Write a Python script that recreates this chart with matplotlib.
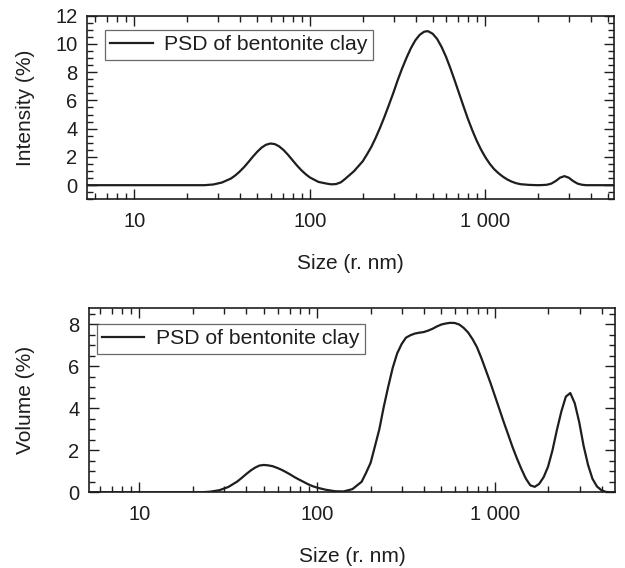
import matplotlib
matplotlib.use('Agg')
import matplotlib.pyplot as plt
from matplotlib.ticker import FixedLocator, LogLocator, MultipleLocator, FuncFormatter, NullFormatter

plt.rcParams['font.family'] = ['Liberation Sans', 'DejaVu Sans']

# intensity distribution (top)
size_int = [5, 25.1, 28.2, 31.6, 35.5, 37.6, 39.8, 42.2, 44.7, 47.3, 50.1, 53.1, 56.2, 59.6,
            63.1, 66.8, 70.8, 75.0, 79.4, 84.1, 89.1, 94.4, 100, 112, 126, 133, 141, 150, 158,
            178, 200, 211, 224, 237, 251, 266, 282, 299, 316, 335, 355, 376, 398, 422, 447,
            464, 473, 501, 531, 562, 596, 631, 668, 708, 750, 794, 841, 891, 944, 1000, 1059,
            1122, 1189, 1259, 1334, 1413, 1496, 1585, 1778, 1995, 2113, 2239, 2371, 2512,
            2661, 2818, 2985, 3162, 3350, 3548, 3758, 5600]
intensity = [0, 0, 0.05, 0.19, 0.47, 0.69, 0.96, 1.28, 1.64, 2.01, 2.36, 2.66, 2.86, 2.95,
             2.91, 2.75, 2.49, 2.16, 1.79, 1.42, 1.08, 0.79, 0.55, 0.23, 0.10, 0.06, 0.08, 0.20, 0.42,
             0.98, 1.69, 2.16, 2.71, 3.35, 4.06, 4.84, 5.68, 6.54, 7.41, 8.25, 9.01, 9.69, 10.24, 10.64, 10.86,
             10.90, 10.89, 10.72, 10.35, 9.80, 9.10, 8.29, 7.42, 6.50, 5.59, 4.71, 3.90, 3.16, 2.52, 1.97, 1.51,
             1.13, 0.84, 0.60, 0.40, 0.25, 0.14, 0.07, 0.02, 0, 0.01, 0.03, 0.11, 0.29,
             0.53, 0.64, 0.53, 0.29, 0.11, 0.03, 0, 0]

# volume distribution (bottom)
size_vol = [5, 22.4, 25.1, 28.2, 31.6, 35.5, 37.6, 39.8, 42.2, 44.7, 47.3, 50.1, 53.1, 56.2,
            59.6, 63.1, 66.8, 70.8, 75.0, 79.4, 84.1, 89.1, 94.4, 100, 112, 126, 141, 158, 178,
            188, 200, 211, 224, 237, 251, 266, 282, 299, 316, 335, 355, 376, 398, 422, 447, 473,
            501, 531, 562, 596, 631, 668, 708, 750, 794, 841, 891, 944, 1000, 1059, 1122, 1189,
            1259, 1334, 1413, 1496, 1585, 1679, 1778, 1884, 1995, 2113, 2239, 2371, 2512, 2661,
            2818, 2985, 3162, 3350, 3548, 3758, 3981, 4217, 4467, 5600]
volume = [0, 0, 0.03, 0.10, 0.25, 0.51, 0.68, 0.86, 1.03, 1.17, 1.27, 1.30, 1.28, 1.24,
          1.16, 1.07, 0.96, 0.84, 0.71, 0.60, 0.49, 0.38, 0.29, 0.22, 0.12, 0.05, 0.04, 0.15, 0.5,
          0.9, 1.4, 2.15, 3.0, 4.05, 5.0, 5.9, 6.6, 7.05, 7.35, 7.47, 7.55, 7.59, 7.62, 7.69, 7.78, 7.89,
          7.98, 8.03, 8.06, 8.05, 7.98, 7.82, 7.6, 7.28, 6.9, 6.38, 5.8, 5.22, 4.6, 3.98, 3.35, 2.75,
          2.15, 1.6, 1.1, 0.65, 0.33, 0.26, 0.4, 0.72, 1.22, 2.0, 2.98, 3.85, 4.55, 4.72,
          4.24, 3.35, 2.21, 1.3, 0.64, 0.28, 0.10, 0.02, 0, 0]

x_ticks = [10, 100, 1000]
x_labels = ['10', '100', '1 000']
legend_label = 'PSD of bentonite clay'

ink = '#1e1e1e'
fs = 14.5

fig = plt.figure(figsize=(6.25, 5.68), dpi=100)
ax1 = fig.add_axes([0.1397, 0.6491, 0.8427, 0.3233])
ax2 = fig.add_axes([0.1424, 0.1333, 0.8416, 0.3239])


def fmt(v, pos):
    k = int(round(v))
    return x_labels[x_ticks.index(k)] if k in x_ticks else ''


def style(ax, xlim, ylim, ylabel, anchor, ylab_x):
    ax.set_xscale('log')
    ax.set_xlim(*xlim)
    ax.set_ylim(*ylim)
    ax.xaxis.set_major_locator(FixedLocator(x_ticks))
    ax.xaxis.set_major_formatter(FuncFormatter(fmt))
    ax.xaxis.set_minor_locator(LogLocator(base=10, subs=range(2, 10)))
    ax.xaxis.set_minor_formatter(NullFormatter())
    ax.yaxis.set_major_locator(MultipleLocator(2))
    ax.yaxis.set_minor_locator(MultipleLocator(0.5))
    ax.tick_params(which='both', direction='in', top=True, right=True, color=ink,
                   labelcolor=ink, labelsize=fs, width=1.0)
    ax.tick_params(which='major', length=7)
    ax.tick_params(which='minor', length=4)
    ax.tick_params(axis='x', which='major', pad=9)
    ax.tick_params(axis='y', which='major', pad=7)
    for s in ax.spines.values():
        s.set_color(ink)
        s.set_linewidth(1.2)
    ax.set_xlabel('Size (r. nm)', fontsize=15, color=ink, labelpad=16.5)
    ax.set_ylabel(ylabel, fontsize=15, color=ink)
    ax.yaxis.set_label_coords(ylab_x, 0.5)
    leg = ax.legend(loc='upper left', bbox_to_anchor=anchor, borderaxespad=0, fontsize=15.2,
                    frameon=True, fancybox=False, handlelength=2.0, handletextpad=0.55,
                    borderpad=0.25)
    leg.get_frame().set_edgecolor('#444444')
    leg.get_frame().set_linewidth(0.9)
    for t in leg.get_texts():
        t.set_color(ink)


ax1.plot(size_int, intensity, color=ink, lw=1.6, label=legend_label)
style(ax1, (5.4, 5400), (-1, 12), 'Intensity (%)', (0.0336, 0.922), -0.099)

ax2.plot(size_vol, volume, color=ink, lw=1.6, label=legend_label)
style(ax2, (5.2, 4750), (0, 8.75), 'Volume (%)', (0.0152, 0.915), -0.103)

fig.savefig('out.png', dpi=100)
